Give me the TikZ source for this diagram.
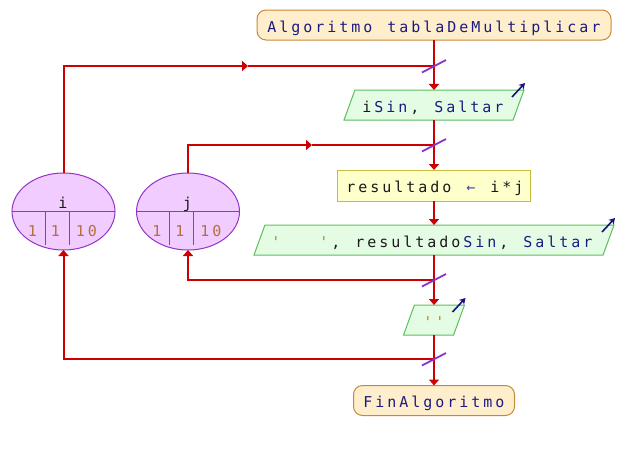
\documentclass[tikz,border=0pt]{standalone}
\usepackage{fontspec}
\setmonofont{DejaVu Sans Mono}
\usetikzlibrary{shapes.geometric,arrows.meta,calc}
\definecolor{flowred}{HTML}{CC0000}
\definecolor{slashc}{HTML}{8833CC}
\definecolor{termf}{HTML}{FFEECC}
\definecolor{termb}{HTML}{C8883A}
\definecolor{iof}{HTML}{E4FCE4}
\definecolor{iob}{HTML}{5CBF5C}
\definecolor{procf}{HTML}{FFFFCC}
\definecolor{procb}{HTML}{C8BC3C}
\definecolor{ellf}{HTML}{F0CCFF}
\definecolor{ellb}{HTML}{9433C8}
\definecolor{outc}{HTML}{14147A}
\definecolor{kw}{HTML}{1C1C80}
\definecolor{idc}{HTML}{1A1A1A}
\definecolor{numc}{HTML}{B4703C}
\definecolor{strc}{HTML}{C8841C}
\definecolor{opc}{HTML}{4848A8}
% every character in a 12pt cell, as in the reference
\ExplSyntaxOn
\NewDocumentCommand \pstxt { m m }
  { \str_map_inline:nn {#2} { \makebox[12pt][c]{\textcolor{#1}{##1}} } }
\ExplSyntaxOff
\newcommand\pscell{\hspace*{12pt}}
\newcommand\iostrut{\vrule width 0pt height 15pt depth 15pt}
\begin{document}
\begin{tikzpicture}[x=1pt,y=-1pt,
  every node/.style={inner sep=0pt, outer sep=0pt},
  lbl/.style={anchor=base, font=\ttfamily\fontsize{15}{17}\selectfont},
  term/.style={rectangle, draw=termb, fill=termf, rounded corners=9pt, line width=1pt, minimum height=30pt},
  io/.style={trapezium, trapezium left angle=70, trapezium right angle=110, trapezium stretches body, draw=iob, fill=iof, line width=1pt, minimum height=30pt},
  proc/.style={rectangle, draw=procb, fill=procf, line width=1pt, minimum height=31pt},
  loopell/.style={ellipse, draw=ellb, fill=ellf, line width=1pt, minimum width=103pt, minimum height=77pt},
  divider/.style={draw=ellb, line width=1pt},
  flow/.style={draw=flowred, line width=2pt},
  arrowed/.style={-{Triangle[length=6pt,width=10pt]}},
  slashmark/.style={draw=slashc, line width=1.8pt},
  outarr/.style={draw=outc, line width=1.6pt, -{Stealth[length=6pt,width=7pt]}}
]
\useasboundingbox (0,0) rectangle (636,450);

% main column shapes
\node[term, minimum width=354pt] (start) at (434,25) {};
\node[io, minimum width=180pt] (p1) at (434,105) {\iostrut};
\node[proc, minimum width=193pt] (rb) at (434,185.5) {};
\node[io, minimum width=360pt] (p2) at (434,240) {\iostrut};
\node[io, minimum width=61pt] (p3) at (434,320) {\iostrut};
\node[term, minimum width=161pt] (fin) at (434,400.5) {};

% their texts
\node[lbl] (start-t) at ($(start.center)+(0,7.2)$) {\pstxt{kw}{Algoritmo tablaDeMultiplicar}};
\node[lbl] (p1-t) at ($(p1.center)+(-1,7.5)$) {\pstxt{idc}{i}\pstxt{kw}{Sin}\pstxt{idc}{, }\pstxt{kw}{Saltar}};
\node[lbl] (rb-t) at ($(rb.center)+(1,7)$) {\pstxt{idc}{resultado }\pstxt{opc}{←}\pstxt{idc}{ i*j}};
\node[lbl] (p2-t) at ($(p2.center)+(-2,7.3)$) {\pstxt{strc}{'}\pscell\pscell\pscell\pstxt{strc}{'}\pstxt{idc}{, resultado}\pstxt{kw}{Sin}\pstxt{idc}{, }\pstxt{kw}{Saltar}};
\node[lbl] (p3-t) at ($(p3.center)+(0,7)$) {\pstxt{strc}{''}};
\node[lbl] (fin-t) at ($(fin.center)+(0,6.5)$) {\pstxt{kw}{FinAlgoritmo}};

% loop ellipses
\node[loopell] (ie) at (63.5,211.5) {};
\node[loopell] (je) at (188,211.5) {};
\foreach \e in {ie, je}{
  \draw[divider] (\e.west) -- (\e.east);
  \draw[divider] ($(\e.center)+(-18.5,0)$) -- ++(0,33);
  \draw[divider] ($(\e.center)+(5.5,0)$) -- ++(0,33);
  \node[lbl] (\e-a) at ($(\e.center)+(-31.2,25.2)$) {\pstxt{numc}{1}};
  \node[lbl] (\e-b) at ($(\e.center)+(-8.2,25.2)$) {\pstxt{numc}{1}};
  \node[lbl] (\e-c) at ($(\e.center)+(23,25.2)$) {\pstxt{numc}{10}};
}
\node[lbl] (ie-var) at ($(ie.center)+(-0.5,-3.2)$) {\pstxt{idc}{i}};
\node[lbl] (je-var) at ($(je.center)+(-0.5,-3.2)$) {\pstxt{idc}{j}};

% junctions and mid-arrow points
\coordinate (j1) at (434,66);
\coordinate (j2) at (434,145);
\coordinate (j3) at (434,280);
\coordinate (j4) at (434,359);
\coordinate (m1) at (248,66);
\coordinate (m2) at (312,145);

% main flow
\draw[flow, arrowed] (start.south) -- (p1.north);
\draw[flow, arrowed] (p1.south) -- (rb.north);
\draw[flow, arrowed] (rb.south) -- (p2.north);
\draw[flow, arrowed] (p2.south) -- (p3.north);
\draw[flow, arrowed] (p3.south) -- (fin.north);

% outer loop i
\draw[flow, arrowed] (ie.north) |- (m1);
\draw[flow] (m1) -- (j1);
\draw[flow, arrowed] (j4) -| (ie.south);
% inner loop j
\draw[flow, arrowed] (je.north) |- (m2);
\draw[flow] (m2) -- (j2);
\draw[flow, arrowed] (j3) -| (je.south);

% slash marks
\foreach \j in {j1,j2,j3,j4}{
  \draw[slashmark] ($(\j)+(-12,6.5)$) -- ($(\j)+(12,-6)$);
}

% output arrows
\foreach \p in {p1,p2,p3}{
  \draw[outarr] ($(\p.top right corner)+(-12,7)$) -- ($(\p.top right corner)+(1,-7)$);
}
\end{tikzpicture}
\end{document}
